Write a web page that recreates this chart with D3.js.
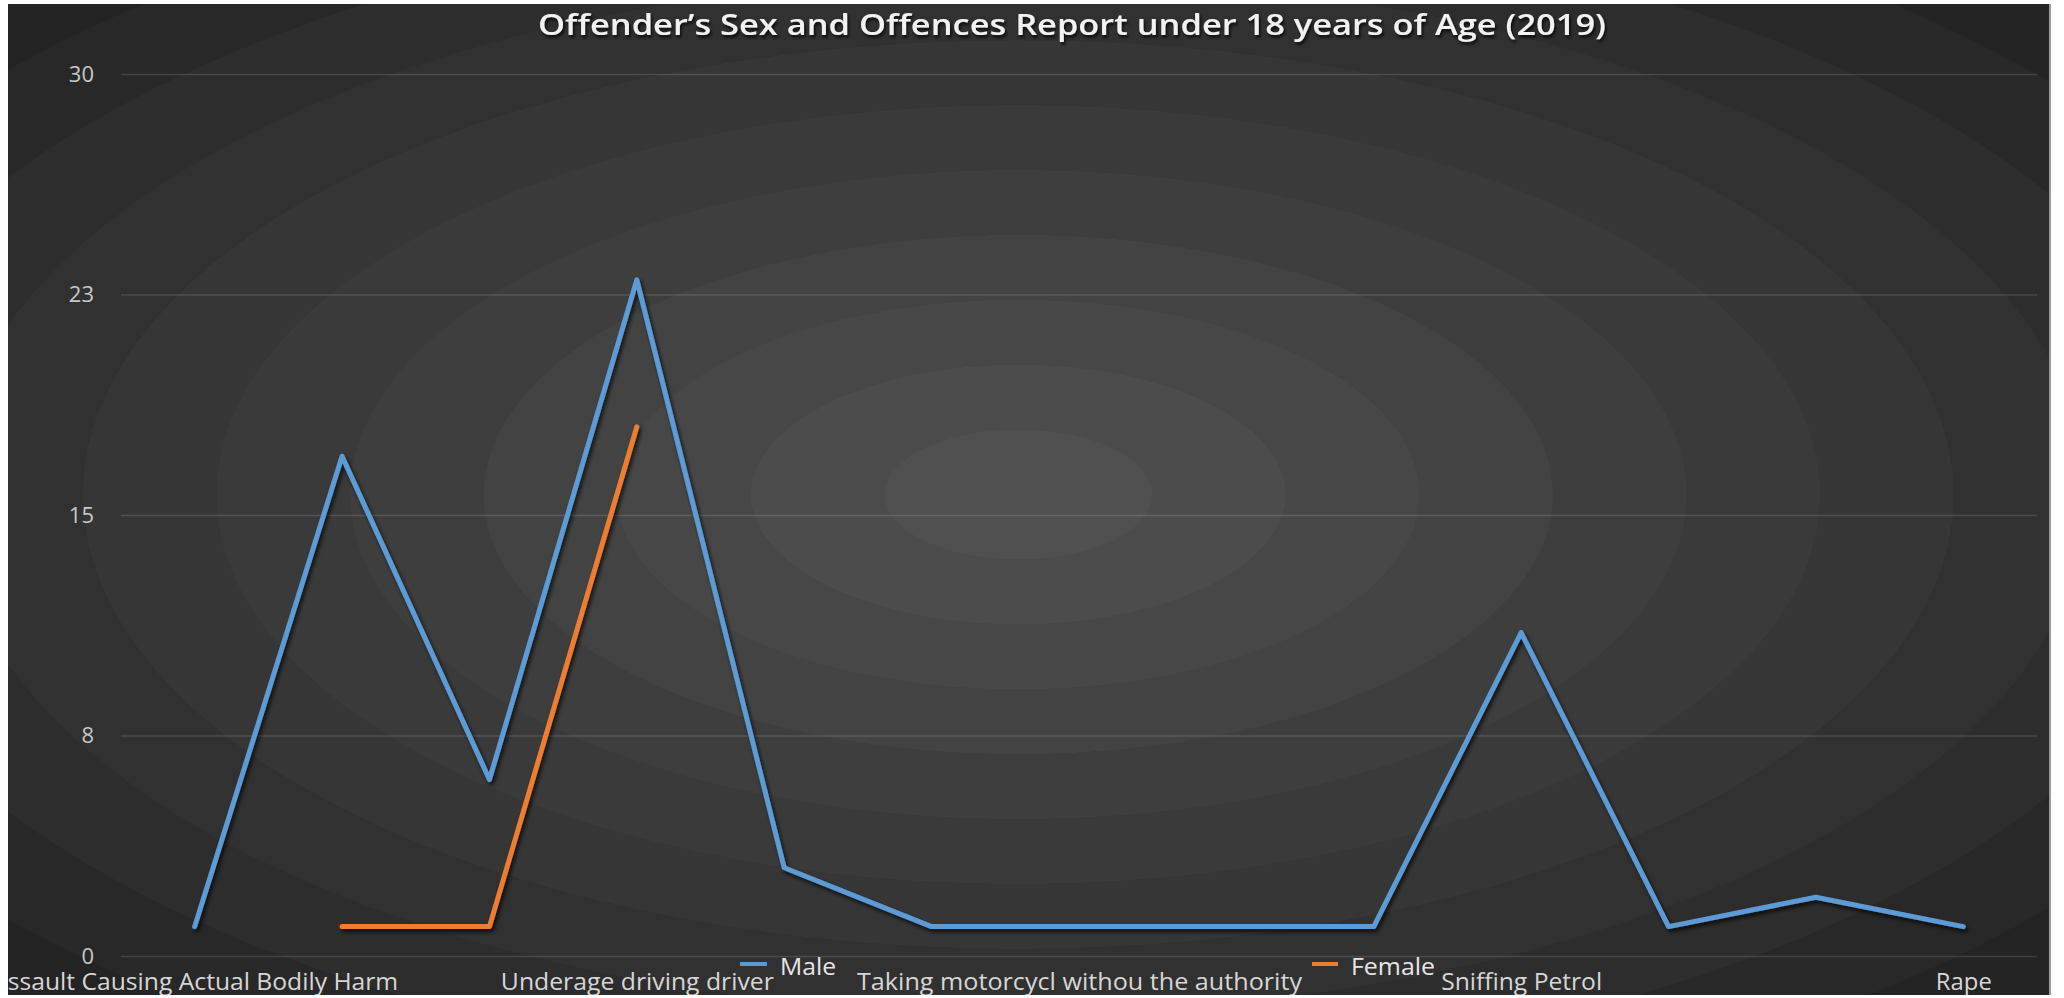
<!DOCTYPE html>
<html>
<head>
<meta charset="utf-8">
<script src="https://cdn.jsdelivr.net/npm/d3@7"></script>
<style>
  html, body { margin: 0; padding: 0; background: #ffffff; }
  svg { display: block; }
</style>
</head>
<body>
<svg id="chart" width="2064" height="998"></svg>
<script>
// Offences recorded for offenders under 18 (2019), split by sex.
// Only every third offence name is printed on the axis; the rest stay unlabelled.
const offenceLabels = [
  "Assault Causing Actual Bodily Harm", null, null,
  "Underage driving driver", null, null,
  "Taking motorcycl withou the authority", null, null,
  "Sniffing Petrol", null, null,
  "Rape"
];
const maleCounts   = [1, 17, 6, 23, 3, 1, 1, 1, 1, 11, 1, 2, 1];
const femaleCounts = [null, 1, 1, 18, null, null, null, null, null, null, null, null, null];
const seriesNames  = ["Male", "Female"];
const seriesColors = ["#5b9bd5", "#ed7d31"];
const yTickValues  = [0, 7.5, 15, 22.5, 30];
const yTickLabels  = ["0", "8", "15", "23", "30"];
const chartTitle   = "Offender\u2019s Sex and Offences Report under 18 years of Age (2019)";

const svg = d3.select("#chart");
const frame = { x0: 8, y0: 4, x1: 2049, y1: 995 };
const plot = { left: 121, right: 2037, top: 74, bottom: 956 };

const defs = svg.append("defs");

// Elliptical banded backdrop: lighter in the middle, darker towards the corners.
const bands = 11;
const grad = defs.append("radialGradient")
  .attr("id", "bg")
  .attr("cx", 0.495).attr("cy", 0.495).attr("r", 0.72)
  .attr("fx", 0.495).attr("fy", 0.495);
const shade = d3.scaleLinear().domain([0, bands - 1]).range([80, 36]);
for (let k = 0; k < bands; k++) {
  const c = Math.round(shade(k));
  const col = `rgb(${c},${c},${c})`;
  grad.append("stop").attr("offset", k / bands).attr("stop-color", col);
  grad.append("stop").attr("offset", (k + 1) / bands).attr("stop-color", col);
}

const shadow = defs.append("filter").attr("id", "shadow")
  .attr("x", "-5%").attr("y", "-5%").attr("width", "110%").attr("height", "110%");
shadow.append("feDropShadow")
  .attr("dx", 2).attr("dy", 3).attr("stdDeviation", 2)
  .attr("flood-color", "#000").attr("flood-opacity", 0.75);

const textShadow = defs.append("filter").attr("id", "tshadow");
textShadow.append("feDropShadow")
  .attr("dx", 1.5).attr("dy", 2.5).attr("stdDeviation", 1.5)
  .attr("flood-color", "#000").attr("flood-opacity", 0.8);

defs.append("clipPath").attr("id", "frameClip")
  .append("rect")
  .attr("x", frame.x0).attr("y", frame.y0)
  .attr("width", frame.x1 - frame.x0).attr("height", frame.y1 - frame.y0);

svg.append("rect")
  .attr("x", frame.x0).attr("y", frame.y0)
  .attr("width", frame.x1 - frame.x0).attr("height", frame.y1 - frame.y0)
  .attr("fill", "url(#bg)");
svg.append("line")
  .attr("x1", frame.x1 + 1).attr("x2", frame.x1 + 1)
  .attr("y1", frame.y0).attr("y2", frame.y1)
  .attr("stroke", "#9a9a9a").attr("stroke-width", 2);

const g = svg.append("g").attr("clip-path", "url(#frameClip)");

const x = d3.scalePoint()
  .domain(d3.range(offenceLabels.length))
  .range([plot.left, plot.right])
  .padding(0.5);
const y = d3.scaleLinear().domain([0, 30]).range([plot.bottom, plot.top]);

const font = "'Open Sans', 'DejaVu Sans', sans-serif";

// Value axis with full-width gridlines
const yAxis = g.append("g")
  .attr("transform", `translate(${plot.left},0)`)
  .call(d3.axisLeft(y)
    .tickValues(yTickValues)
    .tickFormat((d, i) => yTickLabels[i])
    .tickSize(-(plot.right - plot.left))
    .tickPadding(27));
yAxis.select(".domain").remove();
yAxis.selectAll(".tick line")
  .attr("stroke", "#ffffff").attr("stroke-opacity", 0.13).attr("stroke-width", 1.5);
yAxis.selectAll(".tick text")
  .attr("fill", "#c8c8c8")
  .style("font-family", font)
  .style("font-size", "22px");

// Category axis: labels every third offence
const labelled = d3.range(offenceLabels.length).filter(i => offenceLabels[i] !== null);
const xAxis = g.append("g")
  .attr("transform", `translate(0,${plot.bottom})`)
  .call(d3.axisBottom(x)
    .tickValues(labelled)
    .tickFormat(i => offenceLabels[i])
    .tickSize(0));
xAxis.select(".domain").remove();
const labelWidths = { 0: 406, 3: 273, 6: 445, 9: 161, 12: 56 };
xAxis.selectAll(".tick text")
  .attr("y", 34)
  .attr("dy", 0)
  .attr("fill", "#d6d6d6")
  .attr("textLength", d => labelWidths[d])
  .attr("lengthAdjust", "spacingAndGlyphs")
  .style("font-family", font)
  .style("font-size", "24px");

// Series lines
const lineGen = d3.line()
  .defined(d => d.v !== null)
  .x(d => x(d.i))
  .y(d => y(d.v));
const series = [maleCounts, femaleCounts].map((vals, s) => ({
  name: seriesNames[s],
  color: seriesColors[s],
  points: vals.map((v, i) => ({ i, v }))
}));
g.selectAll("path.series")
  .data(series)
  .join("path")
  .attr("class", "series")
  .attr("d", d => lineGen(d.points))
  .attr("fill", "none")
  .attr("stroke", d => d.color)
  .attr("stroke-width", 5)
  .attr("stroke-linejoin", "round")
  .attr("stroke-linecap", "round")
  .attr("filter", "url(#shadow)");

// Legend, sitting inside the label row
const legendPos = [
  { dash: [740, 767], text: 780, width: 56 },
  { dash: [1312, 1338], text: 1351, width: 84 }
];
const legend = g.selectAll("g.legend")
  .data(series)
  .join("g")
  .attr("class", "legend");
legend.append("line")
  .attr("x1", (d, i) => legendPos[i].dash[0])
  .attr("x2", (d, i) => legendPos[i].dash[1])
  .attr("y1", 964).attr("y2", 964)
  .attr("stroke", d => d.color)
  .attr("stroke-width", 4);
legend.append("text")
  .attr("x", (d, i) => legendPos[i].text)
  .attr("y", 975)
  .attr("fill", "#e6e6e6")
  .attr("textLength", (d, i) => legendPos[i].width)
  .attr("lengthAdjust", "spacingAndGlyphs")
  .style("font-family", font)
  .style("font-size", "24px")
  .text(d => d.name);

// Title
g.append("text")
  .attr("x", 1072)
  .attr("y", 35)
  .attr("text-anchor", "middle")
  .attr("fill", "#f2f2f2")
  .attr("textLength", 1068)
  .attr("lengthAdjust", "spacingAndGlyphs")
  .attr("filter", "url(#tshadow)")
  .style("font-family", font)
  .style("font-weight", 600)
  .style("font-size", "29px")
  .text(chartTitle);
</script>
</body>
</html>
